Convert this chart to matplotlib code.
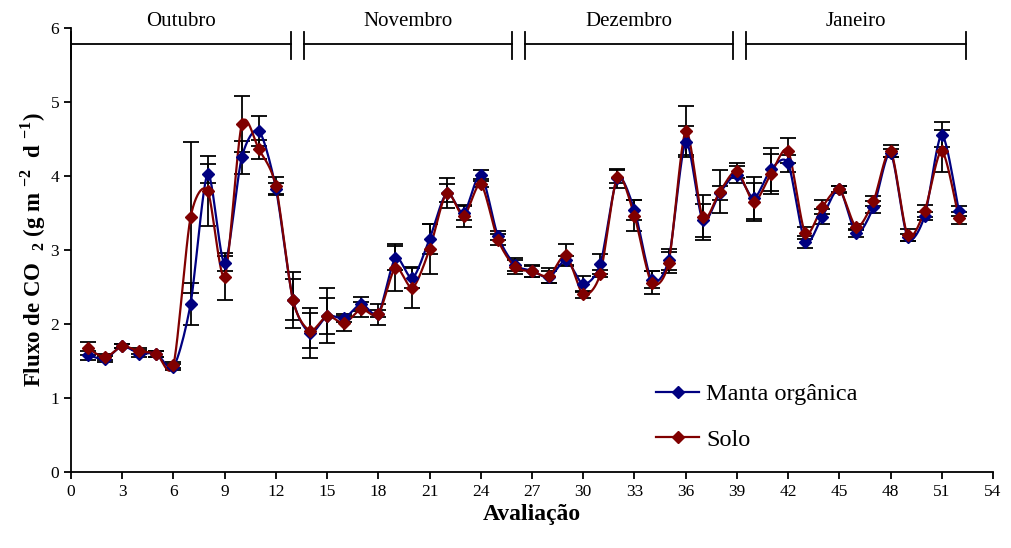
import numpy as np
import matplotlib
matplotlib.use('Agg')
import matplotlib.pyplot as plt

plt.rcParams['font.family'] = ['Liberation Serif', 'DejaVu Serif']
plt.rcParams['mathtext.fontset'] = 'custom'
plt.rcParams['mathtext.rm'] = 'Liberation Serif'
plt.rcParams['mathtext.bf'] = 'Liberation Serif:bold'

# Data
avaliacao = list(range(1, 53))
manta = [1.58, 1.53, 1.70, 1.60, 1.60, 1.42, 2.27, 4.03, 2.82, 4.25,
         4.61, 3.83, 2.33, 1.88, 2.11, 2.08, 2.27, 2.14, 2.89, 2.62,
         3.15, 3.77, 3.50, 4.02, 3.19, 2.80, 2.72, 2.63, 2.86, 2.54,
         2.81, 3.97, 3.54, 2.60, 2.87, 4.46, 3.40, 3.77, 4.02, 3.70,
         4.09, 4.17, 3.11, 3.45, 3.82, 3.23, 3.58, 4.31, 3.17, 3.46,
         4.56, 3.53]
solo = [1.67, 1.55, 1.70, 1.63, 1.60, 1.45, 3.44, 3.80, 2.64, 4.70,
        4.36, 3.86, 2.32, 1.91, 2.11, 2.01, 2.20, 2.13, 2.76, 2.49,
        3.01, 3.77, 3.46, 3.89, 3.14, 2.77, 2.71, 2.65, 2.93, 2.40,
        2.68, 3.99, 3.46, 2.56, 2.83, 4.61, 3.44, 3.79, 4.07, 3.65,
        4.03, 4.34, 3.23, 3.58, 3.82, 3.31, 3.66, 4.34, 3.20, 3.53,
        4.34, 3.43]
erro_manta = [0.06, 0.04, 0.03, 0.05, 0.04, 0.04, 0.28, 0.13, 0.10, 0.22,
              0.20, 0.08, 0.28, 0.34, 0.37, 0.05, 0.09, 0.05, 0.16, 0.14,
              0.20, 0.20, 0.10, 0.06, 0.06, 0.09, 0.08, 0.08, 0.06, 0.11,
              0.14, 0.13, 0.14, 0.11, 0.14, 0.21, 0.22, 0.10, 0.12, 0.28,
              0.29, 0.11, 0.08, 0.10, 0.04, 0.06, 0.08, 0.05, 0.05, 0.06,
              0.17, 0.07]
erro_solo = [0.09, 0.04, 0.03, 0.04, 0.04, 0.04, 1.02, 0.47, 0.32, 0.38,
             0.13, 0.12, 0.38, 0.24, 0.24, 0.10, 0.10, 0.14, 0.32, 0.28,
             0.34, 0.12, 0.15, 0.04, 0.07, 0.09, 0.08, 0.10, 0.15, 0.05,
             0.05, 0.09, 0.21, 0.15, 0.14, 0.33, 0.30, 0.29, 0.10, 0.26,
             0.27, 0.17, 0.08, 0.10, 0.05, 0.04, 0.07, 0.08, 0.08, 0.08,
             0.28, 0.08]
meses = ['Outubro', 'Novembro', 'Dezembro', 'Janeiro']
limites_meses = [(0, 12.9), (13.65, 25.85), (26.6, 38.8), (39.55, 52.4)]


def suavizar(x, y, n=12, tensao=0.4):
    # cardinal spline, close to Excel's smoothed line
    x = np.asarray(x, float)
    y = np.asarray(y, float)
    xs, ys = [], []
    t = np.linspace(0, 1, n, endpoint=False)
    h00 = 2 * t ** 3 - 3 * t ** 2 + 1
    h10 = t ** 3 - 2 * t ** 2 + t
    h01 = -2 * t ** 3 + 3 * t ** 2
    h11 = t ** 3 - t ** 2
    for i in range(len(x) - 1):
        i0 = max(i - 1, 0)
        i3 = min(i + 2, len(x) - 1)
        for arr, out in ((x, xs), (y, ys)):
            m1 = tensao * (arr[i + 1] - arr[i0])
            m2 = tensao * (arr[i3] - arr[i])
            out.extend(h00 * arr[i] + h10 * m1 + h01 * arr[i + 1] + h11 * m2)
    xs.append(x[-1])
    ys.append(y[-1])
    return xs, ys


fig = plt.figure(figsize=(10.12, 5.48), dpi=100)
ax = fig.add_axes([0.0702, 0.1387, 0.9110, 0.8102])

for serie, erro, cor, nome in ((manta, erro_manta, '#000080', 'Manta orgânica'),
                               (solo, erro_solo, '#800000', 'Solo')):
    ax.errorbar(avaliacao, serie, yerr=erro, fmt='none', ecolor='black',
                elinewidth=1.3, capsize=6, capthick=1.3, zorder=2)
    xs, ys = suavizar(avaliacao, serie)
    ax.plot(xs, ys, color=cor, lw=1.6, zorder=3)
    ax.plot(avaliacao, serie, ls='none', marker='D', ms=6.5, color=cor, zorder=4)
    ax.plot([], [], color=cor, lw=1.6, marker='D', ms=6, label=nome)

ax.set_xlim(0, 54)
ax.set_ylim(0, 6)
ax.set_xticks(np.arange(0, 55, 3))
ax.set_yticks(range(0, 7))
ax.spines['top'].set_visible(False)
ax.spines['right'].set_visible(False)
ax.spines['left'].set_linewidth(1.3)
ax.spines['bottom'].set_linewidth(1.3)
ax.tick_params(direction='out', length=5, width=1.3, labelsize=12.5, colors='black')

ax.set_xlabel('Avaliação', fontsize=17, fontweight='bold', labelpad=3)
ax.set_ylabel(r'Fluxo de CO  $_{\mathbf{2}}$ (g m $^{\mathbf{-2}}$  d $^{\mathbf{-1}}$)',
              fontsize=16.5, fontweight='bold', labelpad=2)

# month brackets
y_linha = 5.78
for (a, b), nome in zip(limites_meses, meses):
    ax.plot([a, b], [y_linha, y_linha], color='black', lw=1.3, clip_on=False)
    for xv in (a, b):
        ax.plot([xv, xv], [5.58, 5.94], color='black', lw=1.3, clip_on=False)
    ax.text((a + b) / 2, 5.96, nome, ha='center', va='bottom', fontsize=15,
            clip_on=False)

ax.legend(loc='upper left', bbox_to_anchor=(0.639, 0.318), bbox_transform=fig.transFigure,
          frameon=False, fontsize=17.5, handlelength=1.75, labelspacing=0.95,
          handletextpad=0.3, borderaxespad=0)
fig.savefig('out.png', dpi=100)
